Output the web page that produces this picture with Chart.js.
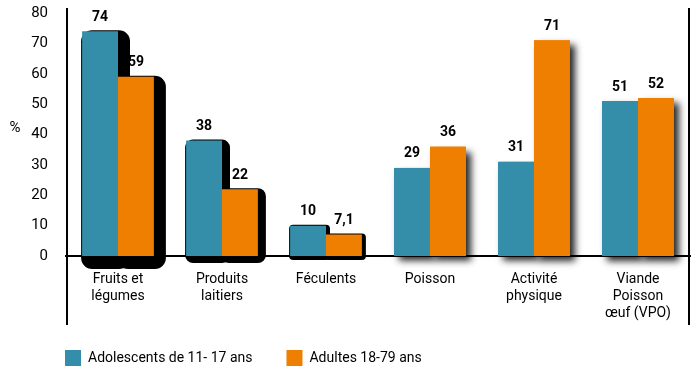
<!DOCTYPE html>
<html>
<head>
<meta charset="utf-8">
<script src="https://cdn.jsdelivr.net/npm/chart.js@4.4.1/dist/chart.umd.min.js"></script>
<style>
  html, body { margin: 0; padding: 0; background: #fff; }
  #wrap { width: 695px; height: 387px; }
</style>
</head>
<body>
<div id="wrap"><canvas id="chart" width="695" height="387"></canvas></div>
<script>
const categories = [
    ['Fruits et', 'légumes'],
    ['Produits', 'laitiers'],
    'Féculents',
    'Poisson',
    ['Activité', 'physique'],
    ['Viande', 'Poisson', 'œuf (VPO)']
];
const adolescents = [74, 38, 10, 29, 31, 51];
const adultes = [59, 22, 7.1, 36, 71, 52];
const seriesNames = ['Adolescents de 11- 17 ans', 'Adultes 18-79 ans'];

const TEAL = '#348ea9';
const ORANGE = '#ef7f01';
const FONT = 'Roboto, "DejaVu Sans", sans-serif';

// shadow look for each category group (heavy solid ones first, then soft ones)
const shadowStyle = [
    { dx: 12, dy: 13, r: 11, solid: true },
    { dx: 8, dy: 7, r: 8, solid: true },
    { dx: 4, dy: 4, r: 4, solid: true },
    { dx: 5, dy: 5, blur: 7 },
    { dx: 5, dy: 5, blur: 7 },
    { dx: 5, dy: 5, blur: 7 }
];

const barShadows = {
    id: 'barShadows',
    beforeDatasetsDraw(chart) {
        const ctx = chart.ctx;
        chart.data.datasets.forEach((ds, di) => {
            const meta = chart.getDatasetMeta(di);
            meta.data.forEach((el, i) => {
                const p = el.getProps(['x', 'y', 'base', 'width'], true);
                const s = shadowStyle[i];
                const x0 = p.x - p.width / 2, x1 = p.x + p.width / 2;
                ctx.save();
                if (s.solid) {
                    ctx.fillStyle = '#000';
                    ctx.beginPath();
                    ctx.roundRect(x0 - 1, p.y - 1, (x1 + s.dx) - (x0 - 1), (p.base + s.dy) - (p.y - 1), s.r);
                    ctx.fill();
                } else {
                    ctx.shadowColor = 'rgba(0,0,0,0.85)';
                    ctx.shadowBlur = s.blur;
                    ctx.shadowOffsetX = s.dx;
                    ctx.shadowOffsetY = s.dy;
                    ctx.fillStyle = ds.backgroundColor;
                    ctx.fillRect(x0, p.y, p.width, p.base - p.y);
                }
                ctx.restore();
            });
        });
    }
};

const valueLabels = {
    id: 'valueLabels',
    afterDatasetsDraw(chart) {
        const ctx = chart.ctx;
        ctx.save();
        ctx.font = 'bold 14px ' + FONT;
        ctx.fillStyle = '#000';
        ctx.textAlign = 'center';
        ctx.textBaseline = 'bottom';
        chart.data.datasets.forEach((ds, di) => {
            chart.getDatasetMeta(di).data.forEach((el, i) => {
                const txt = String(ds.data[i]).replace('.', ',');
                ctx.fillText(txt, el.x, el.y - 7);
            });
        });
        ctx.restore();
    }
};

const frameLines = {
    id: 'frameLines',
    afterLayout(chart) {
        // legend starts under the y axis and sits a bit higher
        chart.legend.left += 31;
        chart.legend.right += 31;
        chart.legend.top -= 12;
        chart.legend.bottom -= 12;
    },
    afterDraw(chart) {
        const ctx = chart.ctx;
        const a = chart.chartArea;
        ctx.save();
        ctx.strokeStyle = '#000';
        ctx.lineWidth = 2;
        ctx.beginPath();
        ctx.moveTo(a.left + 1, 8);
        ctx.lineTo(a.left + 1, 325);
        ctx.moveTo(a.right - 1, 8);
        ctx.lineTo(a.right - 1, 325);
        ctx.stroke();
        ctx.font = '15px ' + FONT;
        ctx.fillStyle = '#000';
        ctx.textAlign = 'center';
        ctx.textBaseline = 'middle';
        ctx.fillText('%', 15, 128);
        ctx.restore();
    }
};

const config = {
    type: 'bar',
    data: {
        labels: categories,
        datasets: [
            { label: seriesNames[0], data: adolescents, backgroundColor: TEAL, borderWidth: 0 },
            { label: seriesNames[1], data: adultes, backgroundColor: ORANGE, borderWidth: 0 }
        ]
    },
    options: {
        responsive: false,
        animation: false,
        layout: { padding: { top: 13, right: 5, left: 0, bottom: -1 } },
        categoryPercentage: 0.69,
        barPercentage: 1,
        plugins: {
            legend: {
                position: 'bottom',
                align: 'start',
                labels: {
                    boxWidth: 16,
                    boxHeight: 16,
                    padding: 34,
                    color: '#000',
                    font: { family: FONT, size: 14 }
                }
            },
            tooltip: { enabled: false },
            title: { display: false }
        },
        scales: {
            x: {
                grid: { display: false, drawTicks: false },
                border: { display: true, color: '#000', width: 2 },
                ticks: {
                    color: '#000',
                    padding: 15,
                    font: { family: FONT, size: 14 },
                    maxRotation: 0,
                    autoSkip: false
                },
                afterFit(scale) { scale.height = 72; }
            },
            y: {
                min: 0,
                max: 80,
                grid: { display: false, drawTicks: false },
                border: { display: false },
                ticks: {
                    stepSize: 10,
                    color: '#000',
                    padding: 18,
                    font: { family: FONT, size: 15 }
                },
                afterFit(scale) {
                    scale.width = 66;
                    scale.paddingTop = 0;
                    scale.paddingBottom = 0;
                }
            }
        }
    },
    plugins: [barShadows, valueLabels, frameLines]
};

new Chart(document.getElementById('chart'), config);
</script>
</body>
</html>
